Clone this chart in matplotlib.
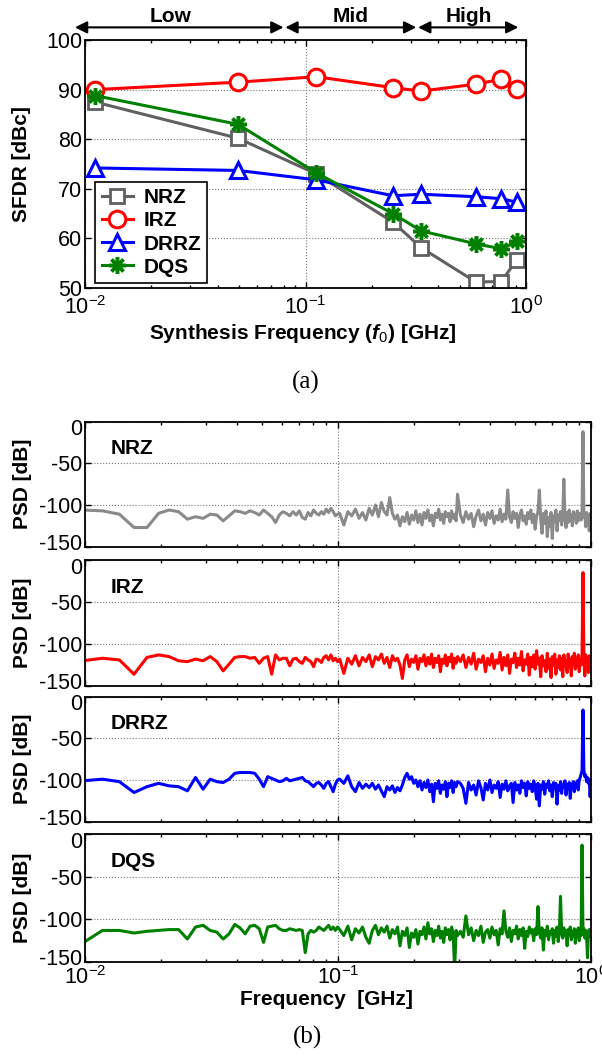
import matplotlib
matplotlib.use('Agg')
import matplotlib.pyplot as plt
from matplotlib.transforms import offset_copy
import numpy as np

plt.rcParams['font.family'] = 'Liberation Sans'
plt.rcParams['axes.unicode_minus'] = False
plt.rcParams['mathtext.fontset'] = 'custom'
plt.rcParams['mathtext.rm'] = 'Liberation Sans'
plt.rcParams['mathtext.it'] = 'Liberation Sans:italic:bold'
plt.rcParams['mathtext.bf'] = 'Liberation Sans:bold'

# ---- (a) SFDR vs synthesis frequency ----
synth_freq = [0.0111, 0.0494, 0.112, 0.249, 0.335, 0.593, 0.773, 0.908]   # GHz
sfdr_nrz = [87.5, 80.2, 73.0, 63.3, 58.1, 51.2, 51.3, 55.7]
sfdr_irz = [90.0, 91.5, 92.6, 90.4, 89.7, 91.1, 92.1, 90.1]
sfdr_drrz = [74.2, 73.7, 71.8, 68.6, 68.9, 68.4, 68.0, 67.3]
sfdr_dqs = [88.8, 83.0, 73.2, 65.0, 61.5, 58.9, 57.9, 59.4]

# frequency bands marked above the plot
band_names = ['Low', 'Mid', 'High']
band_lo = [0.009, 0.081, 0.324]
band_hi = [0.0795, 0.318, 0.923]
band_label_x = [0.0245, 0.161, 0.55]

# ---- (b) output PSD, FFT bins of 1/512 GHz ----
bin_width = 1.0 / 512
psd_bins = [5, 6, 7, 8, 9, 10, 11, 12, 13, 14, 15, 16, 17, 18, 19, 20, 21, 22, 23, 24,
            25, 26, 27, 28, 29, 30, 31, 32, 33, 34, 35, 36, 37, 38, 39, 40, 41, 42, 43, 44,
            45, 46, 47, 48, 49, 50, 51,
            52, 54, 56, 58, 60, 62, 64, 66, 68, 70, 72, 74, 76, 78, 80, 82, 84, 86, 88, 90,
            92, 94, 96, 98, 100, 102, 104, 106, 108, 110, 112, 114, 116, 118, 120, 122, 124,
            126, 128, 130, 132, 134, 136, 138, 140, 142, 144, 146, 148, 150, 152,
            156, 160, 164, 168, 172, 176, 180, 184, 188, 192, 196, 200, 204, 208, 212, 216,
            220, 224, 228, 232, 236, 240, 244, 248, 252, 256, 260, 264, 268, 272, 276, 280,
            284, 288, 292, 296, 300, 304, 308, 312, 316, 320, 324, 328, 332, 336, 340, 344,
            348, 352, 356, 360, 364, 368, 372, 376, 380, 384, 388, 392, 396, 400, 404, 408,
            412, 416, 420, 424, 428, 432, 436, 440, 444, 448, 452, 456, 460, 464, 468, 472,
            476, 480, 484, 488, 492, 496, 500, 504, 508, 512]

psd_nrz = [-106, -107, -111, -127, -127, -110, -106, -108, -117, -114, -116, -111, -112, -119,
           -113, -107, -108, -110, -107, -109, -112, -106, -110, -114, -121, -112, -108, -110,
           -113, -108, -112, -107, -115, -117, -109, -113, -106, -110, -112, -108, -111, -105,
           -109, -104, -108, -113, -111,
           -110, -124, -108, -113, -105, -116, -109, -118, -104, -112, -100, -114, -97, -108,
           -112, -91, -110, -117, -112, -125, -114, -120, -109, -123, -112, -118, -107, -121,
           -111, -124, -109, -116, -106, -119, -112, -125, -110, -115, -105, -118, -111, -122,
           -108, -114, -110, -120, -107, -116, -111, -119, -87,
           -112, -121, -108, -117, -110, -126, -113, -106, -119, -111, -124, -109, -116, -107,
           -122, -113, -118, -105, -120, -111, -117, -82, -114, -121, -108, -116, -110, -127,
           -112, -106, -119, -113, -123, -109, -116, -106, -121, -111, -129, -114, -108, -82,
           -117, -134, -110, -122, -107, -138, -115, -126, -109, -140, -113, -120, -106, -131,
           -112, -118, -108, -124, -113, -69, -116, -127, -109, -121, -106, -118, -112, -125,
           -108, -116, -111, -122, -107, -119, -113, -110, -118, -108, -12, -115, -111, -126,
           -109, -120, -113, -131, -110, -124]

psd_irz = [-120, -117, -119, -136, -116, -113, -115, -120, -121, -118, -120, -115, -121, -132,
           -124, -116, -115, -115, -117, -116, -123, -117, -115, -136, -113, -119, -117, -117,
           -126, -118, -117, -121, -123, -116, -119, -121, -127, -118, -119, -122, -116, -114,
           -119, -113, -120, -117, -121,
           -118, -135, -117, -124, -114, -126, -116, -121, -113, -127, -115, -119, -112, -123,
           -116, -128, -114, -120, -117, -125, -141, -119, -113, -127, -118, -122, -114, -130,
           -117, -121, -113, -126, -116, -124, -112, -128, -117, -122, -114, -133, -118, -123,
           -113, -126, -116, -121, -112, -129, -117, -123, -115,
           -121, -113, -128, -116, -124, -111, -130, -118, -122, -114, -133, -117, -125, -112,
           -129, -119, -123, -110, -131, -116, -126, -113, -135, -118, -122, -111, -128, -117,
           -125, -109, -132, -119, -124, -112, -137, -116, -127, -113, -130, -108, -124, -117,
           -139, -114, -126, -120, -133, -111, -129, -118, -140, -115, -125, -112, -136, -119,
           -128, -114, -131, -117, -139, -113, -126, -120, -134, -112, -127, -118, -138, -115,
           -124, -111, -130, -117, -126, -113, -133, -119, -125, -112, -15, -118, -138, -113,
           -127, -119, -134, -114, -128, -121]

psd_drrz = [-101, -99, -102, -115, -108, -104, -107, -108, -113, -97, -111, -99, -102, -103,
            -99, -92, -91, -91, -91, -92, -99, -108, -96, -98, -100, -102, -101, -98,
            -101, -100, -99, -98, -97, -101, -102, -105, -108, -104, -103, -106, -110, -104,
            -102, -108, -114, -105, -100,
            -99, -104, -95, -108, -114, -103, -110, -105, -109, -104, -111, -106, -113, -120,
            -108, -112, -107, -115, -109, -113, -106, -97, -92, -99, -96, -104, -100, -108,
            -101, -112, -103, -109, -100, -114, -105, -126, -104, -110, -101, -116, -106, -111,
            -102, -120, -104, -109, -101, -115, -103, -108, -102,
            -104, -110, -128, -103, -112, -106, -118, -101, -109, -124, -104, -112, -100, -115,
            -106, -110, -102, -121, -105, -111, -101, -113, -107, -104, -127, -103, -112, -106,
            -116, -101, -109, -104, -119, -102, -110, -105, -114, -101, -108, -123, -104, -131,
            -106, -111, -102, -117, -105, -109, -101, -113, -106, -120, -103, -110, -104, -129,
            -107, -112, -102, -116, -105, -109, -101, -118, -106, -111, -103, -122, -105, -110,
            -102, -114, -104, -108, -101, -112, -100, -97, -93, -89, -16, -88, -96, -94,
            -102, -97, -104, -99, -120, -101]

psd_dqs = [-128, -113, -113, -116, -114, -113, -112, -112, -123, -109, -107, -113, -115, -123,
           -117, -106, -110, -117, -108, -107, -111, -127, -109, -108, -107, -111, -113, -113,
           -111, -112, -113, -112, -113, -139, -117, -113, -115, -113, -109, -111, -113, -110,
           -107, -112, -109, -113, -109,
           -112, -119, -108, -124, -111, -116, -109, -121, -128, -113, -107, -118, -110, -115,
           -108, -122, -112, -117, -109, -131, -114, -119, -110, -133, -116, -121, -112, -129,
           -114, -118, -109, -123, -104, -117, -111, -126, -113, -119, -108, -122, -114, -127,
           -110, -118, -112, -124, -109, -116, -158, -113, -119,
           -114, -121, -96, -118, -110, -125, -113, -119, -108, -127, -115, -112, -122, -109,
           -118, -113, -130, -111, -117, -90, -114, -121, -110, -126, -113, -117, -108, -123,
           -112, -119, -110, -134, -114, -120, -109, -116, -112, -125, -111, -118, -85, -115,
           -122, -110, -136, -113, -119, -108, -124, -114, -117, -111, -128, -113, -120, -109,
           -126, -114, -73, -116, -122, -110, -119, -113, -131, -112, -118, -109, -124, -114,
           -120, -111, -128, -113, -117, -110, -125, -112, -119, -13, -117, -111, -122, -113,
           -119, -145, -116, -112, -120, -117]

psd_names = ['NRZ', 'IRZ', 'DRRZ', 'DQS']
psd_colors = ['#8a8a8a', '#ff0000', '#0000ff', '#008000']


def style_axes(ax):
    ax.set_xscale('log')
    ax.tick_params(which='both', direction='in', top=True, right=True, width=1)
    ax.tick_params(which='major', length=4, labelsize=15.5, pad=2)
    ax.tick_params(which='minor', length=2.5)
    for s in ax.spines.values():
        s.set_linewidth(1.3)
    ax.grid(True, which='major', linestyle=':', color='#777777', linewidth=0.8)


fig = plt.figure(figsize=(6.02, 10.56), dpi=100)

# top plot
ax = fig.add_axes([0.1412, 0.7273, 0.7326, 0.2348])
style_axes(ax)
ax.tick_params(axis='x', which='major', pad=6)
ax.plot(synth_freq, sfdr_nrz, color='#606060', lw=2.2, marker='s', ms=10,
        mfc='white', mew=2, label='NRZ')
ax.plot(synth_freq, sfdr_irz, color='#ff0000', lw=2.2, marker='o', ms=12,
        mfc='white', mew=2.2, label='IRZ')
ax.plot(synth_freq, sfdr_drrz, color='#0000ff', lw=2.2, marker='^', ms=12,
        mfc='white', mew=2.2, label='DRRZ')
ax.plot(synth_freq, sfdr_dqs, color='#008000', lw=2.2, marker=(8, 2, 0), ms=12,
        mew=2.5, label='DQS')
ax.set_xlim(0.01, 1)
ax.set_ylim(50, 100)
ax.set_yticks([50, 60, 70, 80, 90, 100])
ax.set_ylabel('SFDR [dBc]', fontsize=15, fontweight='bold')
ax.yaxis.set_label_coords(-0.122, 0.5)
ax.set_xlabel(r'Synthesis Frequency ($\mathit{f_0}$) [GHz]', fontsize=15, fontweight='bold')
ax.xaxis.set_label_coords(0.493, -0.137)
leg = ax.legend(loc='lower left', bbox_to_anchor=(0.0236, 0.02), borderaxespad=0,
                prop={'weight': 'bold', 'size': 15}, handlelength=1.5, handletextpad=0.5,
                borderpad=0.3, labelspacing=0.2, fancybox=False, framealpha=1)
leg.get_frame().set_edgecolor('black')
leg.get_frame().set_linewidth(1.2)

# band arrows and names
for name, lo, hi, lx in zip(band_names, band_lo, band_hi, band_label_x):
    ax.annotate('', xy=(hi, 1.051), xytext=(lo, 1.051),
                xycoords=('data', 'axes fraction'), textcoords=('data', 'axes fraction'),
                arrowprops=dict(arrowstyle='<|-|>', color='black', lw=1.5,
                                mutation_scale=18, shrinkA=0, shrinkB=0),
                annotation_clip=False)
    ax.text(lx, 1.074, name, transform=ax.get_xaxis_transform(),
            ha='center', va='baseline', fontsize=15, fontweight='bold')

fig.text(306 / 602, 1 - 382 / 1056, '(a)', family='Liberation Serif', fontsize=18,
         ha='center', va='center')

# PSD panels
psd_freq = np.array(psd_bins) * bin_width
psd_data = [psd_nrz, psd_irz, psd_drrz, psd_dqs]
panel_rect = [[0.1412, 0.4823, 0.8405, 0.1184],
              [0.1412, 0.3504, 0.8405, 0.1193],
              [0.1412, 0.2219, 0.8405, 0.1184],
              [0.1412, 0.0890, 0.8405, 0.1212]]
for i in range(len(psd_data)):
    pax = fig.add_axes(panel_rect[i])
    style_axes(pax)
    pax.plot(psd_freq, psd_data[i], color=psd_colors[i], lw=2.2)
    pax.set_xlim(0.01, 1)
    pax.set_ylim(-150, 0)
    pax.set_yticks([-150, -100, -50, 0])
    pax.set_ylabel('PSD [dB]', fontsize=15, fontweight='bold')
    pax.yaxis.set_label_coords(-0.105, 0.5)
    pax.text(0.05, 0.785, psd_names[i], transform=pax.transAxes, fontsize=15,
             fontweight='bold', va='center')
    if i < len(psd_data) - 1:
        pax.tick_params(labelbottom=False)
    else:
        pax.tick_params(axis='x', which='major', pad=3)
        pax.set_xlabel('Frequency  [GHz]', fontsize=15, fontweight='bold')
        pax.xaxis.set_label_coords(0.478, -0.219)
    # end labels nudged just inside the frame
    ylabs = pax.get_yticklabels()
    ylabs[0].set_transform(offset_copy(ylabs[0].get_transform(), fig=fig, y=3.4, units='points'))
    ylabs[-1].set_transform(offset_copy(ylabs[-1].get_transform(), fig=fig, y=-4.2, units='points'))

fig.text(307 / 602, 1 - 1037 / 1056, '(b)', family='Liberation Serif', fontsize=18,
         ha='center', va='center')

fig.savefig('out.png', dpi=100)
